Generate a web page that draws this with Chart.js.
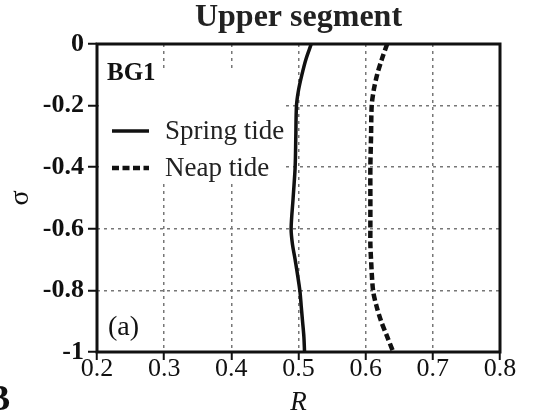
<!DOCTYPE html>
<html>
<head>
<meta charset="utf-8">
<script src="https://cdn.jsdelivr.net/npm/chart.js@4/dist/chart.umd.min.js"></script>
<style>
  html, body { margin: 0; padding: 0; background: #fff; }
  canvas { display: block; }
</style>
</head>
<body>
<canvas id="c" width="559" height="418"></canvas>
<script>
// ---- data ----
const sigma      = [0, -0.05, -0.1, -0.15, -0.2, -0.3, -0.4, -0.5, -0.6, -0.65, -0.7, -0.8, -0.85, -0.9, -0.95, -1];
const springR    = [0.519, 0.511, 0.505, 0.500, 0.497, 0.496, 0.495, 0.492, 0.489, 0.491, 0.495, 0.502, 0.504, 0.506, 0.508, 0.509];
const neapR      = [0.632, 0.624, 0.617, 0.612, 0.609, 0.608, 0.607, 0.607, 0.607, 0.607, 0.608, 0.611, 0.616, 0.623, 0.632, 0.641];
const seriesNames = ['Spring tide', 'Neap tide'];
const xTickValues = [0.2, 0.3, 0.4, 0.5, 0.6, 0.7, 0.8];
const xTickLabels = ['0.2', '0.3', '0.4', '0.5', '0.6', '0.7', '0.8'];
const yTickValues = [0, -0.2, -0.4, -0.6, -0.8, -1];
const yTickLabels = ['0', '-0.2', '-0.4', '-0.6', '-0.8', '-1'];
const chartTitle = 'Upper segment';
const panelId = 'BG1';
const panelTag = '(a)';
const xTitle = 'R';
const yTitle = 'σ';

const SERIF = '"Liberation Serif", "Times New Roman", serif';

function pts(xs, ys) { return xs.map((x, i) => ({ x: x, y: ys[i] })); }
function labelFor(values, labels, v) {
  for (let i = 0; i < values.length; i++) if (Math.abs(values[i] - v) < 1e-6) return labels[i];
  return '';
}

const decor = {
  id: 'decor',
  beforeDatasetsDraw(chart) {
    const ctx = chart.ctx, a = chart.chartArea;
    // white legend box hiding the grid behind the legend
    ctx.save();
    ctx.fillStyle = '#fff';
    ctx.fillRect(a.left + 2, 72, 286 - a.left - 2, 180 - 72);
    ctx.restore();
  },
  afterDraw(chart) {
    const ctx = chart.ctx, a = chart.chartArea;
    ctx.save();
    // frame
    ctx.strokeStyle = '#111';
    ctx.lineWidth = 3;
    ctx.strokeRect(a.left, a.top, a.right - a.left, a.bottom - a.top);

    // legend
    const ds = chart.data.datasets;
    const rows = [131, 168];
    ds.forEach((d, i) => {
      ctx.strokeStyle = '#111';
      ctx.lineWidth = d.borderWidth;
      ctx.setLineDash(d.borderDash || []);
      ctx.beginPath();
      ctx.moveTo(112, rows[i]);
      ctx.lineTo(149, rows[i]);
      ctx.stroke();
      ctx.setLineDash([]);
      ctx.fillStyle = '#222';
      ctx.font = '27px ' + SERIF;
      ctx.textAlign = 'left';
      ctx.textBaseline = 'alphabetic';
      ctx.fillText(d.label, 165, rows[i] + 8);
    });

    // panel labels
    ctx.fillStyle = '#111';
    ctx.font = 'bold 25px ' + SERIF;
    ctx.textAlign = 'left';
    ctx.fillText(panelId, 107, 80);
    ctx.font = '28px ' + SERIF;
    ctx.fillText(panelTag, 108, 335);
    ctx.font = 'bold 35px ' + SERIF;
    ctx.textAlign = 'right';
    ctx.fillText('B', 10, 410);
    ctx.restore();
  }
};

new Chart(document.getElementById('c'), {
  type: 'scatter',
  data: {
    datasets: [
      {
        label: seriesNames[0],
        data: pts(springR, sigma),
        showLine: true,
        borderColor: '#111',
        borderWidth: 3.5,
        pointRadius: 0,
        tension: 0.3,
        fill: false
      },
      {
        label: seriesNames[1],
        data: pts(neapR, sigma),
        showLine: true,
        borderColor: '#111',
        borderWidth: 4.5,
        borderDash: [7, 3.5],
        pointRadius: 0,
        tension: 0.3,
        fill: false
      }
    ]
  },
  options: {
    responsive: false,
    animation: false,
    devicePixelRatio: 1,
    layout: { padding: { left: 0, right: 59, top: 0, bottom: 0 } },
    plugins: {
      legend: { display: false },
      tooltip: { enabled: false },
      title: {
        display: true,
        text: chartTitle,
        fullSize: false,
        color: '#222',
        font: { family: SERIF, size: 32, weight: 'bold', lineHeight: 1 },
        padding: { top: 2, bottom: 10 }
      }
    },
    scales: {
      x: {
        type: 'linear',
        min: 0.2, max: 0.8,
        afterBuildTicks(scale) { scale.ticks = xTickValues.map(v => ({ value: v })); },
        afterFit(scale) { scale.height = 66; },
        ticks: {
          color: '#111',
          font: { family: SERIF, size: 26, lineHeight: 1.2 },
          padding: -6,
          maxRotation: 0,
          callback: (v) => labelFor(xTickValues, xTickLabels, v)
        },
        grid: {
          color: '#777',
          lineWidth: 1.5,
          tickLength: 8,
          tickColor: '#111',
          tickWidth: 2
        },
        border: { display: false, dash: [3, 4] },
        title: {
          display: true,
          text: xTitle,
          color: '#111',
          font: { family: SERIF, size: 27, style: 'italic', lineHeight: 1 },
          padding: { top: 0, bottom: 2 }
        }
      },
      y: {
        type: 'linear',
        min: -1, max: 0,
        afterBuildTicks(scale) { scale.ticks = yTickValues.map(v => ({ value: v })); },
        afterFit(scale) { scale.width = 97; },
        ticks: {
          color: '#111',
          font: { family: SERIF, size: 26, weight: 'bold', lineHeight: 1.2 },
          padding: 4,
          callback: (v) => labelFor(yTickValues, yTickLabels, v)
        },
        grid: {
          color: '#777',
          lineWidth: 1.5,
          tickLength: 9,
          tickColor: '#111',
          tickWidth: 2
        },
        border: { display: false, dash: [3, 4] },
        title: {
          display: true,
          text: yTitle,
          color: '#111',
          font: { family: SERIF, size: 28, lineHeight: 1 },
          padding: { top: 7, bottom: 0 }
        }
      }
    }
  },
  plugins: [decor]
});
</script>
</body>
</html>
